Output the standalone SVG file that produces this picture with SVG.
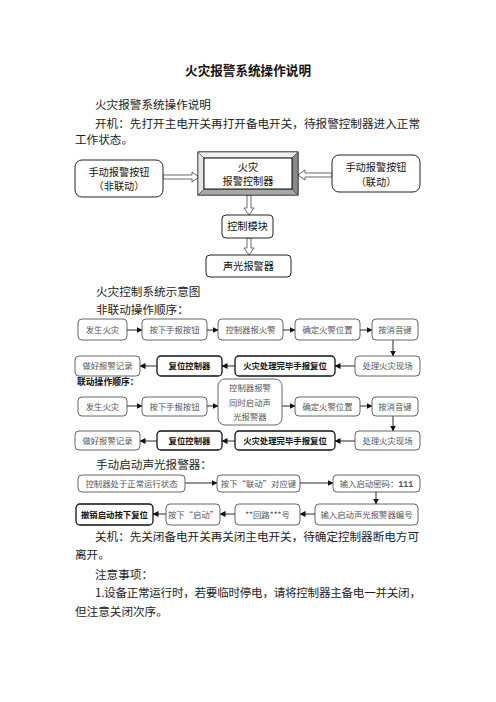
<svg xmlns="http://www.w3.org/2000/svg" width="496" height="702" viewBox="0 0 496 702">
<defs>
<marker id="ah" viewBox="0 0 6 6" refX="5.5" refY="3" markerWidth="6" markerHeight="6" markerUnits="userSpaceOnUse" orient="auto">
<path d="M0,0 L6,3 L0,6 Z" fill="#111"/>
</marker>
</defs>
<style>
text{font-family:"Noto Sans CJK SC","Noto Sans",sans-serif;}
.body{font-size:11.6px;fill:#222;}
.title{font-size:12.6px;font-weight:bold;fill:#111;}
.tb{fill:#fff;stroke:#222;stroke-width:1;}
.tt{font-size:10.2px;fill:#111;text-anchor:middle;}
.fb{fill:#fff;stroke:#555;stroke-width:0.9;}
.fbb{fill:#fff;stroke:#111;stroke-width:1.3;}
.ft{font-size:8.4px;fill:#555;text-anchor:middle;}
.ftb{font-size:8.4px;fill:#111;font-weight:bold;text-anchor:middle;}
.ar{stroke:#111;stroke-width:0.9;fill:none;marker-end:url(#ah);}
.ha{fill:#fff;stroke:#444;stroke-width:0.8;}
</style>
<rect width="496" height="702" fill="#fff"/>

<g id="texts">
<text class="title" x="248" y="75" text-anchor="middle">火灾报警系统操作说明</text>
<text class="body" x="95" y="109">火灾报警系统操作说明</text>
<text class="body" x="95" y="128" textLength="325">开机：先打开主电开关再打开备电开关，待报警控制器进入正常</text>
<text class="body" x="75" y="144">工作状态。</text>
<text class="body" x="96" y="296">火灾控制系统示意图</text>
<text class="body" x="96" y="314">非联动操作顺序：</text>
<text x="77" y="385" style="font-size:8.8px;font-weight:bold;fill:#111">联动操作顺序：</text>
<text class="body" x="96" y="469">手动启动声光报警器：</text>
<text class="body" x="95" y="541" textLength="324">关机：先关闭备电开关再关闭主电开关，待确定控制器断电方可</text>
<text class="body" x="75" y="559">离开。</text>
<text class="body" x="95" y="579">注意事项：</text>
<text class="body" x="95" y="597" textLength="326">1.设备正常运行时，若要临时停电，请将控制器主备电一并关闭，</text>
<text class="body" x="75" y="616">但注意关闭次序。</text>
</g>

<g id="connectors">
<polygon class="ha" points="163,175 192,175 192,172 199,177 192,182 192,179 163,179"/>
<polygon class="ha" points="332,173 305,173 305,170 298,175 305,180 305,177 332,177"/>
<polygon class="ha" points="247,195 247,208 244,208 249,215 254,208 251,208 251,195"/>
<polygon class="ha" points="247,238 247,248 244,248 249,255 254,248 251,248 251,238"/>
<line class="ar" x1="127" y1="330" x2="142" y2="330"/>
<line class="ar" x1="207" y1="330" x2="218" y2="330"/>
<line class="ar" x1="283" y1="330" x2="295" y2="330"/>
<line class="ar" x1="360" y1="330" x2="372" y2="330"/>
<line class="ar" x1="393" y1="340" x2="393" y2="356"/>
<line class="ar" x1="355" y1="366" x2="335" y2="366"/>
<line class="ar" x1="235" y1="366" x2="222" y2="366"/>
<line class="ar" x1="157" y1="366" x2="140" y2="366"/>
<line class="ar" x1="127" y1="406" x2="142" y2="406"/>
<line class="ar" x1="207" y1="406" x2="218" y2="406"/>
<line class="ar" x1="282" y1="406" x2="295" y2="406"/>
<line class="ar" x1="360" y1="406" x2="372" y2="406"/>
<line class="ar" x1="393" y1="415" x2="393" y2="431"/>
<line class="ar" x1="355" y1="441" x2="335" y2="441"/>
<line class="ar" x1="235" y1="441" x2="222" y2="441"/>
<line class="ar" x1="157" y1="441" x2="140" y2="441"/>
<line class="ar" x1="185" y1="483" x2="217" y2="483"/>
<line class="ar" x1="300" y1="483" x2="333" y2="483"/>
<line class="ar" x1="376" y1="492" x2="376" y2="504"/>
<line class="ar" x1="315" y1="514" x2="300" y2="514"/>
<line class="ar" x1="235" y1="514" x2="220" y2="514"/>
<line class="ar" x1="166" y1="514" x2="153" y2="514"/>
</g>

<g id="n-manual-nonlinked">
<rect class="tb" x="75" y="160" width="88" height="37" rx="7"/>
<text class="tt" x="119" y="175.5">手动报警按钮</text>
<text class="tt" x="119" y="189.5">（非联动）</text>
</g>
<g id="n-controller">
<rect x="198" y="152" width="100" height="43" fill="#fff" stroke="#111" stroke-width="1"/>
<polygon points="198,152 298,152 292,158 204,158" fill="#f2f2f2" stroke="#333" stroke-width="0.6"/>
<polygon points="198,152 204,158 204,189 198,195" fill="#e6e6e6" stroke="#333" stroke-width="0.6"/>
<polygon points="298,152 298,195 292,189 292,158" fill="#8a8a8a" stroke="#333" stroke-width="0.6"/>
<polygon points="198,195 298,195 292,189 204,189" fill="#a8a8a8" stroke="#333" stroke-width="0.6"/>
<rect x="204" y="158" width="88" height="31" fill="#fff" stroke="#111" stroke-width="1"/>
<text class="tt" x="248" y="170.5">火灾</text>
<text class="tt" x="248" y="184.5">报警控制器</text>
</g>
<g id="n-manual-linked">
<rect class="tb" x="332" y="155" width="88" height="37" rx="7"/>
<text class="tt" x="376" y="171">手动报警按钮</text>
<text class="tt" x="376" y="185.5">（联动）</text>
</g>
<g id="n-module">
<rect class="tb" x="222" y="215" width="51" height="23" rx="4"/>
<text class="tt" x="247.5" y="230">控制模块</text>
</g>
<g id="n-alarm">
<rect class="tb" x="206" y="255" width="85" height="22" rx="4"/>
<text class="tt" x="248.5" y="269.7">声光报警器</text>
</g>

<g id="f1-1"><rect class="fb" x="78" y="319" width="49" height="21" rx="4"/><text class="ft" x="102.5" y="332.5">发生火灾</text></g>
<g id="f1-2"><rect class="fb" x="142" y="319" width="65" height="21" rx="4"/><text class="ft" x="174.5" y="332.5">按下手报按钮</text></g>
<g id="f1-3"><rect class="fb" x="218" y="319" width="65" height="21" rx="4"/><text class="ft" x="250.5" y="332.5">控制器报火警</text></g>
<g id="f1-4"><rect class="fb" x="295" y="319" width="65" height="21" rx="4"/><text class="ft" x="327.5" y="332.5">确定火警位置</text></g>
<g id="f1-5"><rect class="fb" x="372" y="319" width="46" height="21" rx="4"/><text class="ft" x="395" y="332.5">按消音键</text></g>
<g id="f1-6"><rect class="fb" x="355" y="356" width="65" height="20" rx="4"/><text class="ft" x="387.5" y="369">处理火灾现场</text></g>
<g id="f1-7"><rect class="fbb" x="235" y="356" width="100" height="20" rx="4"/><text class="ftb" x="285" y="369">火灾处理完毕手报复位</text></g>
<g id="f1-8"><rect class="fbb" x="157" y="356" width="65" height="20" rx="4"/><text class="ftb" x="189.5" y="369">复位控制器</text></g>
<g id="f1-9"><rect class="fb" x="75" y="356" width="65" height="20" rx="4"/><text class="ft" x="107.5" y="369">做好报警记录</text></g>

<g id="f2-1"><rect class="fb" x="78" y="397" width="49" height="19" rx="4"/><text class="ft" x="102.5" y="409.5">发生火灾</text></g>
<g id="f2-2"><rect class="fb" x="142" y="397" width="65" height="19" rx="4"/><text class="ft" x="174.5" y="409.5">按下手报按钮</text></g>
<g id="f2-3"><rect class="fb" x="218" y="379" width="64" height="46" rx="7"/>
<text class="ft" x="250" y="391">控制器报警</text>
<text class="ft" x="250" y="405.5">同时启动声</text>
<text class="ft" x="250" y="420">光报警器</text></g>
<g id="f2-4"><rect class="fb" x="295" y="397" width="65" height="19" rx="4"/><text class="ft" x="327.5" y="409.5">确定火警位置</text></g>
<g id="f2-5"><rect class="fb" x="372" y="397" width="46" height="19" rx="4"/><text class="ft" x="395" y="409.5">按消音键</text></g>
<g id="f2-6"><rect class="fb" x="355" y="431" width="65" height="19" rx="4"/><text class="ft" x="387.5" y="443.5">处理火灾现场</text></g>
<g id="f2-7"><rect class="fbb" x="235" y="431" width="100" height="19" rx="4"/><text class="ftb" x="285" y="443.5">火灾处理完毕手报复位</text></g>
<g id="f2-8"><rect class="fbb" x="157" y="431" width="65" height="19" rx="4"/><text class="ftb" x="189.5" y="443.5">复位控制器</text></g>
<g id="f2-9"><rect class="fb" x="75" y="431" width="65" height="19" rx="4"/><text class="ft" x="107.5" y="443.5">做好报警记录</text></g>

<g id="f3-1"><rect class="fb" x="78" y="475" width="107" height="17" rx="4"/><text class="ft" x="131.5" y="486.5">控制器处于正常运行状态</text></g>
<g id="f3-2"><rect class="fb" x="217" y="475" width="83" height="17" rx="4"/><text class="ft" x="258.5" y="486.5">按下“联动”对应键</text></g>
<g id="f3-3"><rect class="fb" x="333" y="475" width="87" height="17" rx="4"/><text class="ft" x="376.5" y="486.5">输入启动密码：<tspan style="font-family:'Liberation Mono',monospace;font-weight:bold">111</tspan></text></g>
<g id="f3-4"><rect class="fb" x="315" y="504" width="103" height="21" rx="4"/><text class="ft" x="366.5" y="517.5">输入启动声光报警器编号</text></g>
<g id="f3-5"><rect class="fb" x="235" y="504" width="65" height="21" rx="4"/><text class="ft" x="267.5" y="517.5">**回路***号</text></g>
<g id="f3-6"><rect class="fb" x="166" y="504" width="54" height="21" rx="4"/><text class="ft" x="193" y="517.5">按下“启动”</text></g>
<g id="f3-7"><rect class="fbb" x="76" y="504" width="77" height="21" rx="4"/><text class="ftb" x="114.5" y="517.5">撤销启动按下复位</text></g>
</svg>
